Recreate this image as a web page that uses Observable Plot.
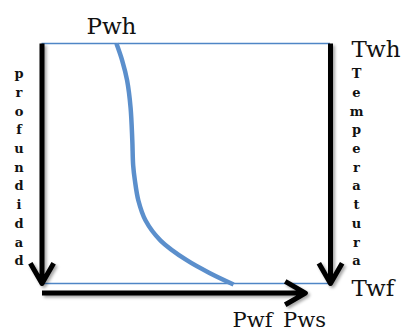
<!DOCTYPE html>
<html>
<head>
<meta charset="utf-8">
<script src="https://cdn.jsdelivr.net/npm/d3@7"></script>
<script src="https://cdn.jsdelivr.net/npm/@observablehq/plot@0.6"></script>
<style>
  html, body { margin: 0; padding: 0; background: #fff; }
  #chart svg { display: block; }
</style>
</head>
<body>
<div id="chart"></div>
<script>
// Pressure profile (blue curve): pressure (x, relative units) vs depth (y, relative units)
const curvePressure = [25.8, 27.8, 29.5, 30.7, 31.3, 31.6, 32.2, 33.4, 35.9, 41.1, 50.3, 58.4, 66.4];
const curveDepth    = [0,    7.1,  15.4, 26.7, 40.4, 50.8, 57.1, 65.4, 73.75, 82.1, 90.4, 95.8, 100.4];

// Axis extents (wellhead / bottom-hole)
const depthLevels = [0, 100];          // Twh (top) .. Twf (bottom)
const pressureRange = [0, 91.3];       // horizontal pressure arrow
const bottomArrowDepth = 104;

// Labels
const topLabel = "Pwh";
const bottomLabel = "Pwf Pws";
const rightTopLabel = "Twh";
const rightBottomLabel = "Twf";
const leftVertical = "profundidad";
const rightVertical = "Temperatura";

const curve = curvePressure.map((p, i) => ({p, d: curveDepth[i]}));
const arrows = [
  {x1: 0, y1: depthLevels[0], x2: 0, y2: depthLevels[1]},
  {x1: 100, y1: depthLevels[0], x2: 100, y2: depthLevels[1]},
  {x1: pressureRange[0], y1: bottomArrowDepth, x2: pressureRange[1], y2: bottomArrowDepth}
];

const serif = "'DejaVu Serif', 'Liberation Serif', serif";
const vert = s => s.split("").join("\n");

const plot = Plot.plot({
  width: 404,
  height: 335,
  marginLeft: 41.5,
  marginRight: 74,
  marginTop: 43,
  marginBottom: 52,
  x: {domain: [0, 100], axis: null},
  y: {domain: [0, 100], reverse: true, axis: null},
  style: {background: "#fff", overflow: "visible"},
  marks: [
    Plot.ruleY(depthLevels, {stroke: "#4f86c6", strokeWidth: 1.5}),
    Plot.arrow(arrows, {
      x1: "x1", y1: "y1", x2: "x2", y2: "y2",
      stroke: "#000", strokeWidth: 5, headLength: 7, headAngle: 60,
      strokeLinejoin: "round", strokeLinecap: "butt"
    }),
    Plot.line(curve, {x: "p", y: "d", curve: "catmull-rom", stroke: "#5b8fcc", strokeWidth: 4.5, strokeLinecap: "butt"}),
    Plot.text([topLabel], {x: () => curvePressure[0], y: () => curveDepth[0], text: d => d,
      lineAnchor: "bottom", textAnchor: "middle", dx: -5, dy: -10,
      fontFamily: serif, fontSize: 23, fill: "#111"}),
    Plot.text([bottomLabel], {x: () => curvePressure[curvePressure.length - 1], y: () => depthLevels[1], text: d => d,
      lineAnchor: "bottom", textAnchor: "start", dx: -1, dy: 43,
      fontFamily: serif, fontSize: 21, fill: "#111"}),
    Plot.text([rightTopLabel], {x: () => 100, y: () => depthLevels[0], text: d => d,
      lineAnchor: "bottom", textAnchor: "start", dx: 21, dy: 13,
      fontFamily: serif, fontSize: 23, fill: "#111"}),
    Plot.text([rightBottomLabel], {x: () => 100, y: () => depthLevels[1], text: d => d,
      lineAnchor: "bottom", textAnchor: "start", dx: 21, dy: 12,
      fontFamily: serif, fontSize: 23, fill: "#111"}),
    Plot.text([vert(leftVertical)], {frameAnchor: "left", text: d => d,
      lineAnchor: "middle", textAnchor: "middle", lineHeight: 1.442, dx: -23, dy: 2.25,
      fontFamily: serif, fontWeight: "bold", fontSize: 13, fill: "#111"}),
    Plot.text([vert(rightVertical)], {frameAnchor: "right", text: d => d,
      lineAnchor: "middle", textAnchor: "middle", lineHeight: 1.442, dx: 26, dy: 2.25,
      fontFamily: serif, fontWeight: "bold", fontSize: 13, fill: "#111"})
  ]
});

// soft drop shadow on black arrows
const ns = "http://www.w3.org/2000/svg";
const defs = document.createElementNS(ns, "defs");
defs.innerHTML = '<filter id="arrowShadow" x="-50%" y="-50%" width="200%" height="200%"><feDropShadow dx="2" dy="2" stdDeviation="1.8" flood-color="#000" flood-opacity="0.35"/></filter>';
plot.insertBefore(defs, plot.firstChild);
const ag = plot.querySelector('g[aria-label="arrow"]');
if (ag) ag.setAttribute("filter", "url(#arrowShadow)");
// wider gap between the two bottom words
plot.querySelectorAll("text").forEach(t => {
  if (t.textContent === bottomLabel) t.style.wordSpacing = "4px";
});

document.getElementById("chart").appendChild(plot);
</script>
</body>
</html>
